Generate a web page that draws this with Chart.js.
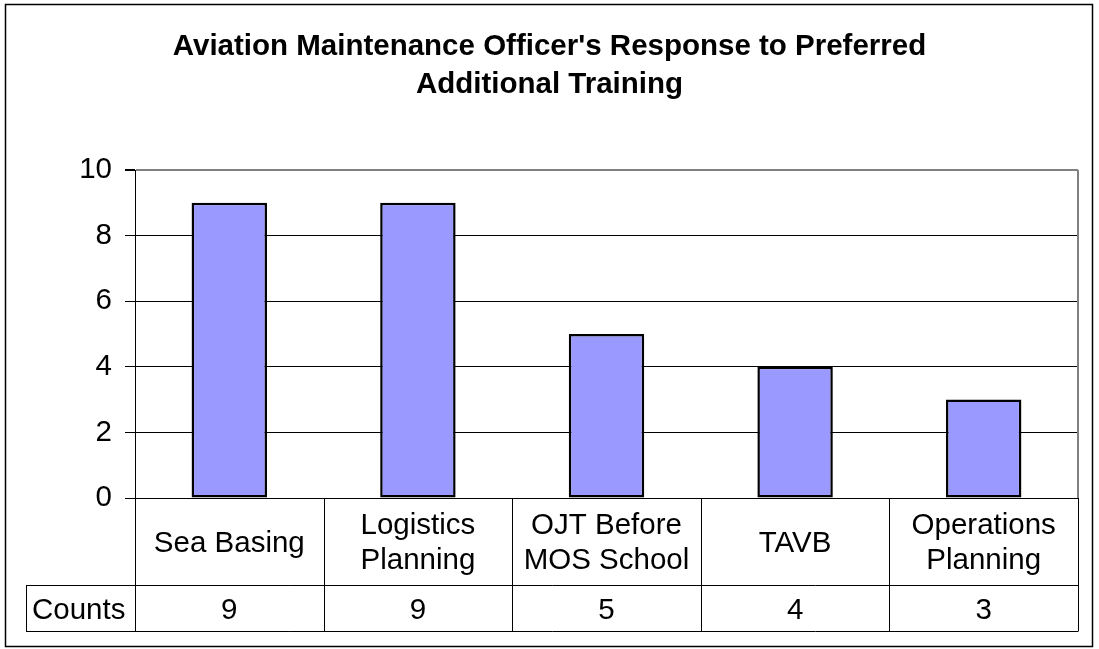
<!DOCTYPE html>
<html><head><meta charset="utf-8">
<script src="https://cdn.jsdelivr.net/npm/chart.js@4/dist/chart.umd.min.js"></script>
<style>html,body{margin:0;padding:0;background:#fff;overflow:hidden}</style>
</head><body><canvas id="c" width="1099" height="649" style="display:block;width:1099px;height:649px"></canvas>
<script>
const titleLines = ["Aviation Maintenance Officer's Response to Preferred", "Additional Training"];
const categories = [["Sea Basing"], ["Logistics", "Planning"], ["OJT Before", "MOS School"], ["TAVB"], ["Operations", "Planning"]];
const counts = [9, 9, 5, 4, 3];
const seriesName = "Counts";
const yMin = 0, yMax = 10, yStep = 2;

const FONT = "'Liberation Sans', Arial, Helvetica, sans-serif";
const FS = 29.5;

const tablePlugin = {
  id: 'tablePlugin',
  beforeDraw(chart) {
    const ctx = chart.ctx;
    ctx.save();
    ctx.fillStyle = '#fff';
    ctx.fillRect(0, 0, chart.width, chart.height);
    ctx.restore();
  },
  afterDraw(chart) {
    const { ctx, chartArea: ca, scales: { x } } = chart;
    const n = counts.length;
    const top = ca.bottom;
    const mid = top + 87;
    const bot = x.bottom;
    const cellLeft = 26;
    const r = v => Math.round(v) + 0.5;
    ctx.save();
    // plot area right border (grey)
    ctx.strokeStyle = '#808080';
    ctx.lineWidth = 2;
    ctx.beginPath();
    ctx.moveTo(Math.round(ca.right), ca.top);
    ctx.lineTo(Math.round(ca.right), ca.bottom);
    ctx.stroke();
    // table lines
    ctx.strokeStyle = '#000';
    ctx.lineWidth = 1;
    ctx.beginPath();
    for (let i = 0; i <= n; i++) {
      const bx = r(x.getPixelForValue(i - 0.5));
      ctx.moveTo(bx, top);
      ctx.lineTo(bx, bot);
    }
    ctx.moveTo(cellLeft, r(mid)); ctx.lineTo(r(x.getPixelForValue(n - 0.5)), r(mid));
    ctx.moveTo(cellLeft, r(bot)); ctx.lineTo(r(x.getPixelForValue(n - 0.5)), r(bot));
    ctx.moveTo(cellLeft + 0.5, r(mid)); ctx.lineTo(cellLeft + 0.5, r(bot));
    ctx.stroke();
    // category labels
    ctx.fillStyle = '#000';
    ctx.font = FS + 'px ' + FONT;
    ctx.textAlign = 'center';
    ctx.textBaseline = 'middle';
    const cy = (top + mid) / 2 + 2;
    const lh = 35;
    categories.forEach((lines, i) => {
      const cx = x.getPixelForValue(i);
      const y0 = cy - (lines.length - 1) * lh / 2;
      lines.forEach((t, j) => ctx.fillText(t, cx, y0 + j * lh));
      ctx.fillText(String(counts[i]), cx, (mid + bot) / 2 + 3);
    });
    ctx.textAlign = 'left';
    ctx.fillText(seriesName, cellLeft + 6, (mid + bot) / 2 + 3);
    // outer chart border
    ctx.strokeStyle = '#000';
    ctx.lineWidth = 1.5;
    ctx.strokeRect(5.5, 4.5, 1087, 642);
    ctx.restore();
  }
};

new Chart(document.getElementById('c'), {
  type: 'bar',
  data: {
    labels: categories.map(c => c.join(' ')),
    datasets: [{
      label: seriesName,
      data: counts,
      backgroundColor: '#9999FF',
      borderColor: '#000',
      borderWidth: 2.5,
      borderSkipped: false,
      categoryPercentage: 1,
      barPercentage: 0.4
    }]
  },
  options: {
    responsive: false,
    devicePixelRatio: 1,
    animation: false,
    layout: { padding: { left: 21, right: 21, top: 0, bottom: 18 } },
    plugins: {
      legend: { display: false },
      tooltip: { enabled: false },
      title: {
        display: true,
        text: titleLines,
        color: '#000',
        font: { family: FONT, size: FS, weight: 'bold', lineHeight: 38 / FS },
        padding: { top: 28, bottom: 66 }
      }
    },
    scales: {
      x: {
        offset: true,
        grid: { display: false },
        border: { display: false },
        ticks: { display: false },
        afterFit(s) { s.height = 133; }
      },
      y: {
        min: yMin, max: yMax,
        ticks: { stepSize: yStep, color: '#000', padding: 13, font: { family: FONT, size: FS } },
        grid: {
          color: c => (c.tick && c.tick.value === yMax) ? '#808080' : '#000',
          lineWidth: c => (c.tick && c.tick.value === yMax) ? 2 : 1,
          tickColor: '#000',
          tickLength: 10
        },
        border: { display: true, color: '#000', width: 1 },
        afterFit(s) { s.width = 114; }
      }
    }
  },
  plugins: [tablePlugin]
});
</script>
</body></html>
